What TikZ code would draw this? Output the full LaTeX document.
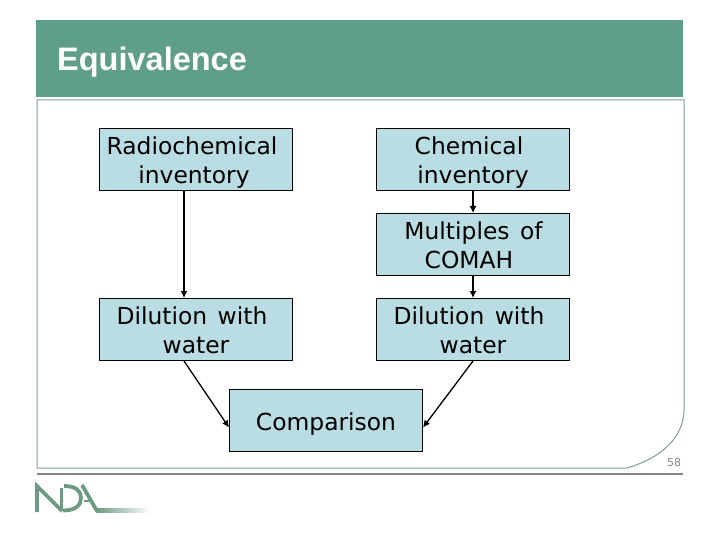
\documentclass[tikz,border=0pt]{standalone}
\usepackage{fontspec}
\setmainfont[WordSpace=1.4]{DejaVu Sans}
\newfontfamily\titlefont{Liberation Sans}
\usetikzlibrary{arrows.meta}
\definecolor{bandgreen}{HTML}{5F9F87}
\definecolor{framegreen}{HTML}{7F9F98}
\definecolor{boxblue}{HTML}{B9DDE2}
\definecolor{rulegrey}{HTML}{858585}
\definecolor{logogreen}{HTML}{6C9A83}
\newcommand{\topgap}{\rule{0pt}{24pt}}
\newcommand{\botgap}{\rule[-5.5pt]{0pt}{5.5pt}}
\tikzset{
    flowbox/.style={draw=black, fill=boxblue, line width=1pt, minimum width=193pt, minimum height=62pt, inner sep=0pt, align=center, font=\fontsize{23.4}{29}\selectfont},
    flowline/.style={draw=black, line width=1.3pt, -{Latex[length=7pt,width=7pt]}},
    logoline/.style={draw=logogreen, line width=3.8pt}
}
\begin{document}
\begin{tikzpicture}[x=1pt,y=-1pt]
    \useasboundingbox (0,0) rectangle (720,540);
    \fill[white] (0,0) rectangle (720,540);
    % title band
    \fill[bandgreen] (36,20) rectangle (683,97);
    \node[anchor=west, text=white, inner sep=0pt, font=\fontsize{32.5}{34}\selectfont\titlefont\bfseries] (title) at (57,62.5) {Equivalence};
    % frame and footer
    \draw[framegreen, line width=1pt] (37,100) -- (684,100) -- (684,410) .. controls (684,432) and (668,456) .. (627,468) -- (37,468) -- cycle;
    \draw[rulegrey, line width=2pt] (37,474) -- (683,474);
    \node[text=rulegrey, inner sep=0pt, font=\fontsize{11}{12}\selectfont] (pagenum) at (674,462) {58};
    % boxes
    \node[flowbox] (radio) at (196,159.5) {\topgap\hspace*{-8pt}Radiochemical\\\hspace*{-4pt}inventory};
    \node[flowbox] (chem) at (473,159.5) {\topgap\hspace*{-8pt}Chemical\\inventory};
    \node[flowbox] (multi) at (473,244.5) {\topgap\hspace*{1pt}Multiples of\\\hspace*{-8pt}COMAH\botgap};
    \node[flowbox] (diluteA) at (196,329.5) {\topgap\hspace*{-8pt}Dilution with\\water\botgap};
    \node[flowbox] (diluteB) at (473,329.5) {\topgap\hspace*{-8pt}Dilution with\\water\botgap};
    \node[flowbox] (compare) at (326,420.5) {\topgap Comparison};
    % arrows
    \draw[flowline] ([xshift=-12pt]radio.south) -- ([xshift=-12pt]diluteA.north);
    \draw[flowline] (chem.south) -- (multi.north);
    \draw[flowline] (multi.south) -- (diluteB.north);
    \draw[flowline] ([xshift=-12pt]diluteA.south) -- ([yshift=-7pt]compare.west);
    \draw[flowline] (diluteB.south) -- ([yshift=-7pt]compare.east);
    % logo
    \draw[logoline] (37,512) -- (37,486) -- (62,511);
    \draw[logoline, line width=3pt] (61,511) -- (61,488);
    \draw[logoline] (64,486) .. controls (76,486) and (81,491) .. (81,498) .. controls (81,505) and (76,510.5) .. (63,510.5);
    \draw[logoline] (82,485) -- (97,511);
    \draw[logoline, line width=2.6pt] (84,501) -- (91,501);
    \shade[left color=logogreen, right color=white] (96,508) rectangle (150,512);
\end{tikzpicture}
\end{document}
